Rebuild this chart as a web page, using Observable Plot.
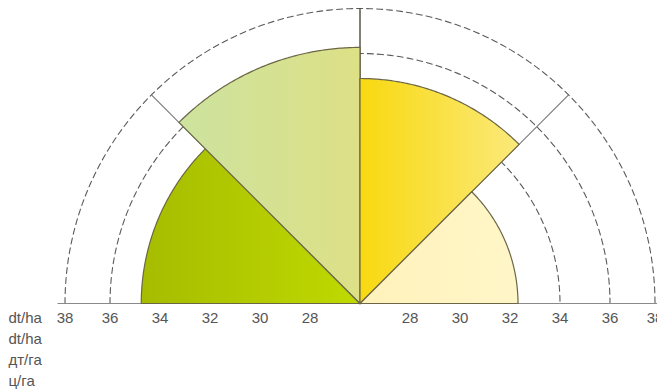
<!DOCTYPE html>
<html>
<head>
<meta charset="utf-8">
<script src="https://cdn.jsdelivr.net/npm/d3@7"></script>
<script src="https://cdn.jsdelivr.net/npm/@observablehq/plot@0.6"></script>
<style>
  html, body { margin: 0; padding: 0; background: #fff; }
  #chart svg { display: block; }
</style>
</head>
<body>
<div id="chart"></div>
<script>
// ---- data ----
const ticks = [28, 30, 32, 34, 36, 38];
const sectorNames = ["left-low", "left-high", "right-high", "right-low"];
const sectorValues = [34.75, 36.27, 35.0, 32.32];
const unitLabels = ["dt/ha", "dt/ha", "дт/га", "ц/га"];

// ---- styles ----
const gradients = [
  ["#a6bc00", "#bfd900"],
  ["#cde39f", "#dde086"],
  ["#f8d910", "#fbe97a"],
  ["#fff2bb", "#fff6c8"]
];
const W = 657, H = 390, CX = 359.5, CY = 303;

// radial scale (value -> distance from centre)
const r = Plot.scale({x: {type: "linear", domain: [26, 36, 38], range: [0, 250, 295]}});
const R = v => r.apply(v);
const rad = d => d * Math.PI / 180;
const pt = (v, a) => [R(v) * Math.cos(rad(a)), R(v) * Math.sin(rad(a))];
function arc(v, a0, a1, n = 90) {
  const out = [];
  for (let i = 0; i <= n; i++) out.push(pt(v, a0 + (a1 - a0) * i / n));
  return out;
}

const maxTick = d3.max(ticks);
const arcs = ticks.flatMap(t => arc(t, 180, 0, 180).map(p => ({x: p[0], y: p[1], t})));
const sectorAngle = 180 / sectorValues.length;
const wedges = sectorValues.map((v, i) => {
  const a0 = 180 - sectorAngle * i, a1 = 180 - sectorAngle * (i + 1);
  return [[0, 0], ...arc(v, a0, a1), [0, 0]].map(p => ({x: p[0], y: p[1]}));
});
const spokes = [45, 90, 135].map(a => ({a, x1: 0, y1: 0, x2: pt(maxTick, a)[0], y2: pt(maxTick, a)[1]}));
const tickLabels = ticks.flatMap(t => [{t, x: -R(t)}, {t, x: R(t)}]);

const font = "'Liberation Sans', Arial, sans-serif";

const defs = () => {
  const d = d3.create("svg:defs");
  gradients.forEach(([c0, c1], i) => {
    const g = d.append("linearGradient").attr("id", "g" + i)
      .attr("x1", 0).attr("x2", 1).attr("y1", 0).attr("y2", 0);
    g.append("stop").attr("offset", "0%").attr("stop-color", c0);
    g.append("stop").attr("offset", "100%").attr("stop-color", c1);
  });
  return d.node();
};

const chart = Plot.plot({
  width: W, height: H,
  marginLeft: 0, marginRight: 0, marginTop: 0, marginBottom: 0,
  x: {domain: [-CX, W - CX], axis: null},
  y: {domain: [CY - H, CY], axis: null},
  style: {fontFamily: font, background: "#fff"},
  marks: [
    defs,
    Plot.line(arcs, {x: "x", y: "y", z: "t", stroke: "#5a5a5a", strokeWidth: 1.1, strokeDasharray: "6,4"}),
    Plot.ruleY([0], {x1: -(R(maxTick) + 7), x2: W - CX, stroke: "#8a8a8a", strokeWidth: 1.2}),
    Plot.link(spokes, {x1: "x1", y1: "y1", x2: "x2", y2: "y2",
      stroke: d => d.a === 90 ? "#4a4a3a" : "#777", strokeWidth: d => d.a === 90 ? 1.4 : 1.1}),
    ...wedges.map((w, i) => Plot.line(w, {x: "x", y: "y", fill: `url(#g${i})`, stroke: "#6b6646", strokeWidth: 1.2, strokeLinejoin: "round"})),
    Plot.text(tickLabels, {x: "x", y: -15, text: d => String(d.t), fontSize: 15, fill: "#555", textAnchor: "middle", lineAnchor: "middle"}),
    Plot.text(unitLabels, {x: -CX + 8, y: (d, i) => -(15 + 21 * i), text: d => d, fontSize: 15, fill: "#555", textAnchor: "start", lineAnchor: "middle"})
  ]
});
document.getElementById("chart").append(chart);
</script>
</body>
</html>
